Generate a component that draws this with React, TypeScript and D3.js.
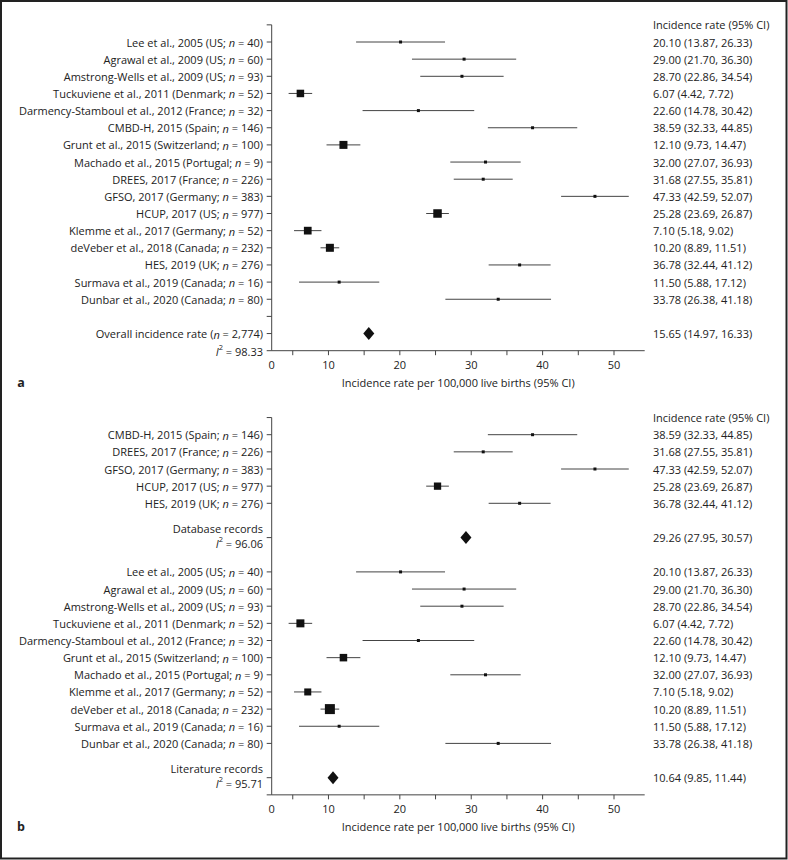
import React from "react";
import * as d3 from "d3";

// ---------- DATA ----------
const studyNames = [
  "Lee et al., 2005", "Agrawal et al., 2009", "Amstrong-Wells et al., 2009", "Tuckuviene et al., 2011",
  "Darmency-Stamboul et al., 2012", "CMBD-H, 2015", "Grunt et al., 2015", "Machado et al., 2015",
  "DREES, 2017", "GFSO, 2017", "HCUP, 2017", "Klemme et al., 2017",
  "deVeber et al., 2018", "HES, 2019", "Surmava et al., 2019", "Dunbar et al., 2020",
];
const countries = [
  "US", "US", "US", "Denmark", "France", "Spain", "Switzerland", "Portugal",
  "France", "Germany", "US", "Germany", "Canada", "UK", "Canada", "Canada",
];
const sampleN = [40, 60, 93, 52, 32, 146, 100, 9, 226, 383, 977, 52, 232, 276, 16, 80];
const rates = [20.10, 29.00, 28.70, 6.07, 22.60, 38.59, 12.10, 32.00, 31.68, 47.33, 25.28, 7.10, 10.20, 36.78, 11.50, 33.78];
const lower = [13.87, 21.70, 22.86, 4.42, 14.78, 32.33, 9.73, 27.07, 27.55, 42.59, 23.69, 5.18, 8.89, 32.44, 5.88, 26.38];
const upper = [26.33, 36.30, 34.54, 7.72, 30.42, 44.85, 14.47, 36.93, 35.81, 52.07, 26.87, 9.02, 11.51, 41.12, 17.12, 41.18];
// approximate marker weights
const weightsA = [1.4, 1.4, 1.4, 8.8, 1.4, 1.4, 10, 1.4, 1.4, 1.4, 11.3, 9.3, 10, 1.4, 1.4, 1.4];
const weightsB = [1.4, 1.4, 1.4, 10, 1.4, 1.4, 8.8, 1.4, 1.4, 1.4, 8.3, 7.7, 15.6, 1.4, 1.4, 1.4];

const databaseOrder = [5, 8, 9, 10, 13];
const literatureOrder = [0, 1, 2, 3, 4, 6, 7, 11, 12, 14, 15];

const overallA = { label: "Overall incidence rate", n: "2,774", est: 15.65, lo: 14.97, hi: 16.33, i2: "98.33" };
const databasePooled = { label: "Database records", est: 29.26, lo: 27.95, hi: 30.57, i2: "96.06" };
const literaturePooled = { label: "Literature records", est: 10.64, lo: 9.85, hi: 11.44, i2: "95.71" };

const xTickValues = [5, 10, 15, 20, 25, 30, 35, 40, 45, 50];
const xTickLabels = [0, 10, 20, 30, 40, 50];
const xTitle = "Incidence rate per 100,000 live births (95% CI)";
const colHeader = "Incidence rate (95% CI)";

// ---------- LAYOUT ----------
const W = 788, H = 860;
const FONT = "'Open Sans', 'Noto Sans', sans-serif";
const FS = 11;
const TXT = "#222";
const LINE = "#444";
const axisX0 = 271.7, axisX1 = 644.7;
const labelRight = 263;
const valueX = 653;
const rowStep = 17.15;

const x = d3.scaleLinear().domain([2.05, 54.3]).range([axisX0, axisX1]);
const sizeScale = d3.scaleSqrt().domain([0, 10]).range([0, 8]);

const fmt = (v: number) => v.toFixed(2);
const ciText = (e: number, l: number, h: number) => `${fmt(e)} (${fmt(l)}, ${fmt(h)})`;

type Row =
  | { kind: "study"; idx: number; w: number }
  | { kind: "blank"; tick: boolean }
  | { kind: "pooled"; est: number; lo: number; hi: number; lines: React.ReactNode[] }
  | { kind: "text"; content: React.ReactNode };

const StudyLabel = ({ i }: { i: number }) => (
  <>
    {`${studyNames[i]} (${countries[i]}; `}
    <tspan fontStyle="italic">n</tspan>
    {` = ${sampleN[i]})`}
  </>
);

const I2 = ({ v }: { v: string }) => (
  <>
    <tspan fontStyle="italic">I</tspan>
    <tspan dy={-4} fontSize={7.5}>2</tspan>
    <tspan dy={4}>{` = ${v}`}</tspan>
  </>
);

const Diamond = ({ cx, cy }: { cx: number; cy: number }) => {
  const p = d3.path();
  p.moveTo(cx - 5.5, cy);
  p.lineTo(cx, cy - 6.5);
  p.lineTo(cx + 5.5, cy);
  p.lineTo(cx, cy + 6.5);
  p.closePath();
  return <path d={p.toString()} fill="#111" />;
};

function Panel({ rows, top, letter, tickRows }: { rows: Row[]; top: number; letter: string; tickRows: boolean[] }) {
  const n = rows.length;
  const y = d3.scaleLinear().domain([-1, n]).range([top - rowStep, top + n * rowStep]);
  const axisY = y(n);
  return (
    <g fontFamily={FONT} fontSize={FS} fill={TXT}>
      {/* y axis */}
      <line x1={axisX0} x2={axisX0} y1={y(-1)} y2={axisY} stroke={LINE} strokeWidth={1} />
      <line x1={axisX0 - 5} x2={axisX0} y1={y(-1)} y2={y(-1)} stroke={LINE} />
      <line x1={axisX0 - 5} x2={axisX0} y1={axisY} y2={axisY} stroke={LINE} />
      {rows.map((r, i) =>
        tickRows[i] ? <line key={"t" + i} x1={axisX0 - 5} x2={axisX0} y1={y(i)} y2={y(i)} stroke={LINE} /> : null
      )}
      {/* header */}
      <text x={valueX} y={y(-1)} dominantBaseline="central">{colHeader}</text>
      {rows.map((r, i) => {
        const cy = y(i);
        if (r.kind === "study") {
          const k = r.idx;
          const s = sizeScale(r.w);
          return (
            <g key={i}>
              <text x={labelRight} y={cy} textAnchor="end" dominantBaseline="central"><StudyLabel i={k} /></text>
              <line x1={x(lower[k])} x2={x(upper[k])} y1={cy} y2={cy} stroke={LINE} strokeWidth={1} />
              <rect x={x(rates[k]) - s / 2} y={cy - s / 2} width={s} height={s} fill="#111" />
              <text x={valueX} y={cy} dominantBaseline="central">{ciText(rates[k], lower[k], upper[k])}</text>
            </g>
          );
        }
        if (r.kind === "pooled") {
          return (
            <g key={i}>
              {r.lines.length === 1 ? (
                <text x={labelRight} y={cy} textAnchor="end" dominantBaseline="central">{r.lines[0]}</text>
              ) : (
                <>
                  <text x={labelRight} y={cy - 9.5} textAnchor="end" dominantBaseline="central">{r.lines[0]}</text>
                  <text x={labelRight} y={cy + 5.5} textAnchor="end" dominantBaseline="central">{r.lines[1]}</text>
                </>
              )}
              <Diamond cx={x(r.est)} cy={cy} />
              <text x={valueX} y={cy} dominantBaseline="central">{ciText(r.est, r.lo, r.hi)}</text>
            </g>
          );
        }
        if (r.kind === "text") {
          return (
            <text key={i} x={labelRight} y={cy} textAnchor="end" dominantBaseline="central">{r.content}</text>
          );
        }
        return null;
      })}
      {/* x axis */}
      <line x1={axisX0} x2={axisX1} y1={axisY} y2={axisY} stroke={LINE} />
      {xTickValues.map((v) => (
        <line key={"xt" + v} x1={x(v)} x2={x(v)} y1={axisY} y2={axisY + 4.5} stroke={LINE} />
      ))}
      {xTickLabels.map((v) => (
        <text key={"xl" + v} x={x(Math.max(v, x.domain()[0]))} y={axisY + 14} textAnchor="middle" dominantBaseline="central">
          {v}
        </text>
      ))}
      <text x={(axisX0 + axisX1) / 2} y={axisY + 32} textAnchor="middle" dominantBaseline="central">{xTitle}</text>
      <text x={21} y={axisY + 32} fontWeight="bold" fontSize={12.5} textAnchor="middle" dominantBaseline="central">{letter}</text>
    </g>
  );
}

export default function App() {
  const rowsA: Row[] = [
    ...studyNames.map((_, i) => ({ kind: "study" as const, idx: i, w: weightsA[i] })),
    { kind: "blank", tick: true },
    {
      kind: "pooled", est: overallA.est, lo: overallA.lo, hi: overallA.hi,
      lines: [<>{`${overallA.label} (`}<tspan fontStyle="italic">n</tspan>{` = ${overallA.n})`}</>],
    },
  ];
  const ticksA = rowsA.map(() => true);

  const rowsB: Row[] = [
    ...databaseOrder.map((i) => ({ kind: "study" as const, idx: i, w: weightsB[i] })),
    { kind: "blank", tick: false },
    {
      kind: "pooled", est: databasePooled.est, lo: databasePooled.lo, hi: databasePooled.hi,
      lines: [databasePooled.label, <I2 v={databasePooled.i2} />],
    },
    { kind: "blank", tick: false },
    ...literatureOrder.map((i) => ({ kind: "study" as const, idx: i, w: weightsB[i] })),
    { kind: "blank", tick: false },
    {
      kind: "pooled", est: literaturePooled.est, lo: literaturePooled.lo, hi: literaturePooled.hi,
      lines: [literaturePooled.label, <I2 v={literaturePooled.i2} />],
    },
  ];
  const ticksB = rowsB.map((r) => r.kind !== "blank");

  return (
    <svg width={W} height={H} style={{ position: "absolute", left: 0, top: 0, background: "#fff" }}>
      <rect x={1} y={1} width={W - 2.5} height={H - 2.5} fill="#fff" stroke="#222" strokeWidth={2} />
      <Panel rows={rowsA} top={42} letter="a" tickRows={ticksA} />
      <text x={labelRight} y={42 + 18 * rowStep} textAnchor="end" dominantBaseline="central" fontFamily={FONT} fontSize={FS} fill={TXT}>
        <I2 v={overallA.i2} />
      </text>
      <Panel rows={rowsB} top={434.7} letter="b" tickRows={ticksB} />
    </svg>
  );
}
